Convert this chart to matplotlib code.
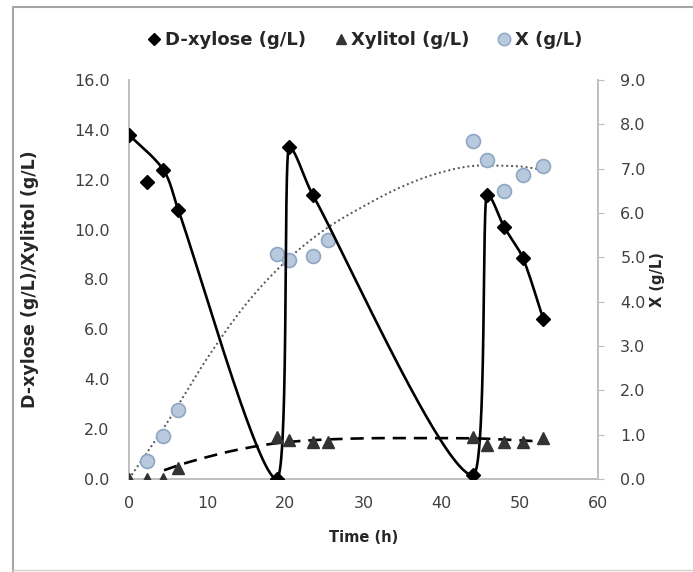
import numpy as np
import matplotlib
matplotlib.use('Agg')
import matplotlib.pyplot as plt
from matplotlib.lines import Line2D

plt.rcParams['font.family'] = ['DejaVu Sans']

# ---------------------------------------------------------------------------
# Data
# ---------------------------------------------------------------------------
t_xylose = [0, 2.3, 4.4, 6.3, 18.9, 20.5, 23.5, 44.0, 45.8, 48.0, 50.4, 53.0]
xylose = [13.8, 11.9, 12.4, 10.8, 0.0, 13.3, 11.4, 0.15, 11.4, 10.1, 8.85, 6.4]
# points the smoothed xylose line runs through (the 2.3 h point is skipped)
xylose_line_idx = [0, 2, 3, 4, 5, 6, 7, 8, 9, 10, 11]

t_xylitol = [0, 2.3, 4.4, 6.3, 18.9, 20.5, 23.5, 25.5, 44.0, 45.8, 48.0, 50.4, 53.0]
xylitol = [0.0, 0.0, 0.0, 0.45, 1.7, 1.55, 1.5, 1.5, 1.68, 1.36, 1.47, 1.5, 1.66]

# model curve for xylitol (dashed)
t_xylitol_fit = [4.5, 6.3, 10, 14, 19, 25, 33, 44, 50, 53]
xylitol_fit = [0.35, 0.55, 0.88, 1.18, 1.44, 1.58, 1.64, 1.63, 1.55, 1.5]

t_biomass = [2.3, 4.4, 6.3, 18.9, 20.5, 23.5, 25.5, 44.0, 45.8, 48.0, 50.4, 53.0]
biomass = [0.41, 0.97, 1.55, 5.07, 4.93, 5.04, 5.4, 7.63, 7.2, 6.5, 6.85, 7.07]

# trend line for biomass (dotted)
t_biomass_fit = [0, 5, 10, 15, 20, 25, 30, 35, 40, 45, 50, 53]
biomass_fit = [0, 1.3, 2.72, 3.95, 4.9, 5.62, 6.15, 6.6, 6.92, 7.07, 7.05, 6.97]

x_ticks = [0, 10, 20, 30, 40, 50, 60]
y_ticks = [0, 2, 4, 6, 8, 10, 12, 14, 16]
y2_ticks = [0, 1, 2, 3, 4, 5, 6, 7, 8, 9]

PX_X, PX_Y, PX_Y2 = 7.82, 25.0, 44.4   # screen pixels per data unit


def smooth(x, y, sx, sy, n=80):
    """Smoothed line through the points, built from cubic Bezier pieces in
    screen units. Catmull-Rom tangents, capped to a third of the segment
    length; peaks and valleys get flat tangents so nothing overshoots."""
    p = np.column_stack([np.asarray(x, float) * sx, np.asarray(y, float) * sy])
    m = len(p)
    tang = np.zeros_like(p)
    flat = np.zeros(m, bool)
    for i in range(m):
        a = p[max(i - 1, 0)]
        b = p[min(i + 1, m - 1)]
        tang[i] = (b - a) / 6.0
        if 0 < i < m - 1 and (p[i, 1] - a[1]) * (b[1] - p[i, 1]) < 0:
            tang[i, 1] = 0.0
            flat[i] = True
    out = []
    for i in range(m - 1):
        p1, p2 = p[i], p[i + 1]
        d = np.hypot(*(p2 - p1))
        dx = abs(p2[0] - p1[0])
        handles = []
        for t, is_flat in ((tang[i], flat[i]), (tang[i + 1], flat[i + 1])):
            t = t.copy()
            cap = min(d / 3.0, dx) if is_flat else d / 3.0
            L = np.hypot(*t)
            if L > cap:
                t *= cap / L
            handles.append(t)
        c1, c2 = p1 + handles[0], p2 - handles[1]
        s = np.linspace(0, 1, n)[:, None]
        seg = ((1 - s) ** 3) * p1 + 3 * ((1 - s) ** 2) * s * c1 \
            + 3 * (1 - s) * s ** 2 * c2 + s ** 3 * p2
        out.append(seg if i == 0 else seg[1:])
    out = np.vstack(out)
    return out[:, 0] / sx, out[:, 1] / sy


fig = plt.figure(figsize=(6.93, 5.72), dpi=100)
ax = fig.add_axes([0.186, 0.1626, 0.677, 0.6976])
ax2 = ax.twinx()

grey_txt = '#404040'
spine_c = '#bfbfbf'

# D-xylose
xl = [t_xylose[i] for i in xylose_line_idx]
yl = [xylose[i] for i in xylose_line_idx]
sx, sy = smooth(xl, yl, PX_X, PX_Y)
ax.plot(sx, sy, color='black', lw=1.9, zorder=3)
ax.plot(t_xylose, xylose, ls='none', marker='D', ms=7, color='black', zorder=5)

# Xylitol
fx, fy = smooth(t_xylitol_fit, xylitol_fit, PX_X, PX_Y)
ax.plot(fx, fy, color='black', lw=1.9, ls=(0, (5, 3)), zorder=3)
ax.plot(t_xylitol, xylitol, ls='none', marker='^', ms=8, color='#333333', zorder=5)

# Biomass (right axis)
bx, by = smooth(t_biomass_fit, biomass_fit, PX_X, PX_Y2)
ax2.plot(bx, by, color='#555555', lw=1.4, ls=(0, (1, 1.5)), zorder=2)
ax2.plot(t_biomass, biomass, ls='none', marker='o', ms=10,
         mfc='#b9c9dd', mec='#8ea6c4', mew=1.2, zorder=4)

ax.set_xlim(0, 60)
ax.set_ylim(0, 16)
ax2.set_ylim(0, 9)
ax.set_xticks(x_ticks)
ax.set_yticks(y_ticks)
ax2.set_yticks(y2_ticks)
ax.set_yticklabels([f'{v:.1f}' for v in y_ticks])
ax2.set_yticklabels([f'{v:.1f}' for v in y2_ticks])

for a in (ax, ax2):
    a.spines['top'].set_visible(False)
    for side in ('left', 'right', 'bottom'):
        a.spines[side].set_color(spine_c)
        a.spines[side].set_linewidth(1.2)
ax.tick_params(axis='both', length=0, labelsize=11.5, labelcolor=grey_txt)
ax.tick_params(axis='y', pad=14)
ax.tick_params(axis='x', pad=12)
ax2.tick_params(axis='y', length=4, color=spine_c, labelsize=11.5,
                labelcolor=grey_txt, pad=12)
ax2.set_zorder(ax.get_zorder() - 1)
ax.patch.set_visible(False)

ax.set_xlabel('Time (h)', fontsize=10.5, fontweight='bold', color='#262626', labelpad=14)
ax.set_ylabel('D-xylose (g/L)/Xylitol (g/L)', fontsize=12.5, fontweight='bold',
              color='#262626', labelpad=25)
ax2.set_ylabel('X (g/L)', fontsize=10.5, fontweight='bold', color='#262626', labelpad=3)

handles = [
    Line2D([], [], ls='none', marker='D', ms=6, color='black'),
    Line2D([], [], ls='none', marker='^', ms=7, color='#333333'),
    Line2D([], [], ls='none', marker='o', ms=9, mfc='#b9c9dd', mec='#8ea6c4'),
]
fig.legend(handles, ['D-xylose (g/L)', 'Xylitol (g/L)', 'X (g/L)'],
           loc='center', bbox_to_anchor=(0.525, 0.93), ncol=3, frameon=False,
           prop={'size': 13, 'weight': 'bold'}, handletextpad=0.1,
           columnspacing=1.4, handlelength=1.0, labelcolor='#262626')

# outer chart border (cropped box)
fig.add_artist(Line2D([0.019, 0.019], [0.0, 0.988], color='#a6a6a6', lw=1.5,
                      transform=fig.transFigure))
fig.add_artist(Line2D([0.019, 1.0], [0.988, 0.988], color='#a6a6a6', lw=1.5,
                      transform=fig.transFigure))
fig.add_artist(Line2D([0.019, 1.0], [0.004, 0.004], color='#d0d0d0', lw=1.0,
                      transform=fig.transFigure))

fig.savefig('out.png', dpi=100)
